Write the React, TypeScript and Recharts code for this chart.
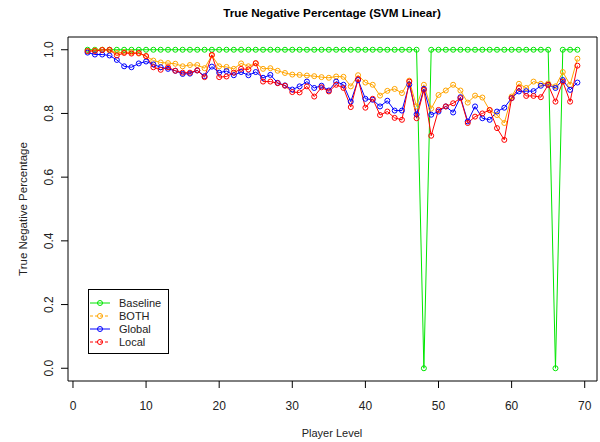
import React from 'react';
import { LineChart, Line, XAxis, YAxis, ReferenceArea, Customized } from 'recharts';

// player levels on the x axis
const LEVELS = [
  2, 3, 4, 5, 6, 7, 8, 9, 10, 11,
  12, 13, 14, 15, 16, 17, 18, 19, 20, 21,
  22, 23, 24, 25, 26, 27, 28, 29, 30, 31,
  32, 33, 34, 35, 36, 37, 38, 39, 40, 41,
  42, 43, 44, 45, 46, 47, 48, 49, 50, 51,
  52, 53, 54, 55, 56, 57, 58, 59, 60, 61,
  62, 63, 64, 65, 66, 67, 68, 69,
];

const BASELINE = [
  1, 1, 1, 1, 1, 1, 1, 1, 1, 1,
  1, 1, 1, 1, 1, 1, 1, 1, 1, 1,
  1, 1, 1, 1, 1, 1, 1, 1, 1, 1,
  1, 1, 1, 1, 1, 1, 1, 1, 1, 1,
  1, 1, 1, 1, 1, 1, 0, 1, 1, 1,
  1, 1, 1, 1, 1, 1, 1, 1, 1, 1,
  1, 1, 1, 1, 0, 1, 1, 1,
];

const BOTH = [
  0.995, 0.998, 1.0, 0.998, 0.99, 0.992, 0.992, 0.988, 0.98, 0.966,
  0.96, 0.958, 0.956, 0.948, 0.952, 0.952, 0.942, 0.982, 0.948, 0.946,
  0.94, 0.957, 0.948, 0.957, 0.94, 0.942, 0.934, 0.927, 0.922, 0.921,
  0.919, 0.917, 0.914, 0.912, 0.916, 0.915, 0.885, 0.92, 0.897, 0.89,
  0.856, 0.871, 0.877, 0.864, 0.903, 0.822, 0.89, 0.815, 0.858, 0.872,
  0.89, 0.872, 0.834, 0.856, 0.85, 0.81, 0.795, 0.77, 0.853, 0.893,
  0.88, 0.9, 0.893, 0.894, 0.885, 0.93, 0.89, 0.972,
];

const GLOBAL = [
  0.991, 0.985, 0.985, 0.982, 0.968, 0.948, 0.945, 0.957, 0.963, 0.954,
  0.945, 0.94, 0.934, 0.924, 0.925, 0.935, 0.917, 0.947, 0.928, 0.933,
  0.92, 0.93, 0.92, 0.93, 0.912, 0.921, 0.896, 0.888, 0.875, 0.885,
  0.9, 0.88, 0.887, 0.872, 0.9, 0.89, 0.837, 0.905, 0.846, 0.843,
  0.822, 0.84, 0.809, 0.809, 0.891, 0.797, 0.877, 0.796, 0.806, 0.822,
  0.803, 0.851, 0.775, 0.822, 0.785, 0.78, 0.806, 0.818, 0.848, 0.869,
  0.87, 0.87, 0.887, 0.89, 0.88, 0.905, 0.874, 0.897,
];

const LOCAL = [
  0.996, 0.996, 0.999, 1.0, 0.982, 0.99, 0.988, 0.99, 0.98, 0.945,
  0.937, 0.945, 0.934, 0.928, 0.928, 0.935, 0.914, 0.984, 0.914, 0.916,
  0.928, 0.94, 0.938, 0.958, 0.9, 0.9, 0.895, 0.887, 0.867, 0.866,
  0.885, 0.853, 0.882, 0.869, 0.89, 0.88, 0.82, 0.908, 0.818, 0.846,
  0.795, 0.806, 0.786, 0.78, 0.9, 0.785, 0.874, 0.73, 0.811, 0.822,
  0.832, 0.848, 0.77, 0.79, 0.8, 0.811, 0.754, 0.717, 0.848, 0.88,
  0.855, 0.855, 0.851, 0.89, 0.837, 0.9, 0.837, 0.95,
];

const X_TICKS = [0, 10, 20, 30, 40, 50, 60, 70];
const Y_TICKS = [0, 0.2, 0.4, 0.6, 0.8, 1.0];

const SERIES = [
  { key: 'Baseline', color: '#00e600', dashed: false },
  { key: 'BOTH', color: '#ffa500', dashed: true },
  { key: 'Global', color: '#0000ff', dashed: false },
  { key: 'Local', color: '#ff0000', dashed: true },
];

const data = LEVELS.map((level, i) => ({
  level,
  Baseline: BASELINE[i],
  BOTH: BOTH[i],
  Global: GLOBAL[i],
  Local: LOCAL[i],
}));

const FONT = '"Liberation Sans", Arial, sans-serif';

// R style y tick labels, rotated
const YTick = (props: any) => {
  const { x, y, payload } = props;
  const ax = x - 6;
  return (
    <text
      x={ax}
      y={y}
      transform={`rotate(-90, ${ax}, ${y})`}
      textAnchor="middle"
      fontSize={12}
      fill="#222"
      fontFamily={FONT}
    >
      {Number(payload.value).toFixed(1)}
    </text>
  );
};

const Annotations = () => (
  <g fontFamily={FONT}>
    <text x={332} y={17} textAnchor="middle" fontSize={11.7} fontWeight="bold" fill="#000">
      True Negative Percentage (SVM Linear)
    </text>
    <text x={332} y={437} textAnchor="middle" fontSize={11} fill="#222">
      Player Level
    </text>
    <text x={27} y={209} transform="rotate(-90, 27, 209)" textAnchor="middle" fontSize={11.5} fill="#222">
      True Negative Percentage
    </text>
    {/* legend box */}
    <rect x={88.5} y={289.5} width={80} height={64} fill="#fff" stroke="#000" strokeWidth={1} />
    {SERIES.map((s, i) => {
      const cy = 303 + i * 13;
      return (
        <g key={s.key}>
          <line x1={90} x2={110} y1={cy} y2={cy} stroke={s.color} strokeWidth={1} strokeDasharray={s.dashed ? '3 2' : undefined} />
          <circle cx={100} cy={cy} r={2.5} fill="none" stroke={s.color} strokeWidth={1} />
          <text x={119} y={cy + 4} fontSize={11} fill="#222">{s.key}</text>
        </g>
      );
    })}
  </g>
);

const App: React.FC = () => {
  return (
    <div style={{ position: 'absolute', left: 0, top: 0, background: '#fff' }}>
      <LineChart
        width={600}
        height={442}
        data={data}
        margin={{ top: 37, right: 3, left: 0, bottom: 0 }}
        style={{ fontFamily: FONT }}
      >
        <XAxis
          dataKey="level"
          type="number"
          domain={[-0.68, 71.68]}
          ticks={X_TICKS}
          allowDataOverflow
          height={61}
          axisLine={false}
          tickLine={{ stroke: '#000' }}
          tickSize={7}
          tickMargin={13}
          tick={{ fontSize: 12, fill: '#222' }}
        />
        <YAxis
          type="number"
          domain={[-0.04, 1.04]}
          ticks={Y_TICKS}
          allowDataOverflow
          width={68}
          axisLine={false}
          tickLine={{ stroke: '#000' }}
          tickSize={7}
          tick={<YTick />}
        />
        <ReferenceArea
          x1={-0.68}
          x2={71.68}
          y1={-0.04}
          y2={1.04}
          fill="none"
          fillOpacity={0}
          stroke="#000"
          strokeWidth={1}
          ifOverflow="visible"
        />
        {SERIES.map((s) => (
          <Line
            key={s.key}
            type="linear"
            dataKey={s.key}
            stroke={s.color}
            strokeWidth={1}
            dot={{ r: 2.5, fill: 'none', stroke: s.color, strokeWidth: 1 }}
            activeDot={false}
            isAnimationActive={false}
          />
        ))}
        <Customized component={Annotations} />
      </LineChart>
    </div>
  );
};

export default App;
